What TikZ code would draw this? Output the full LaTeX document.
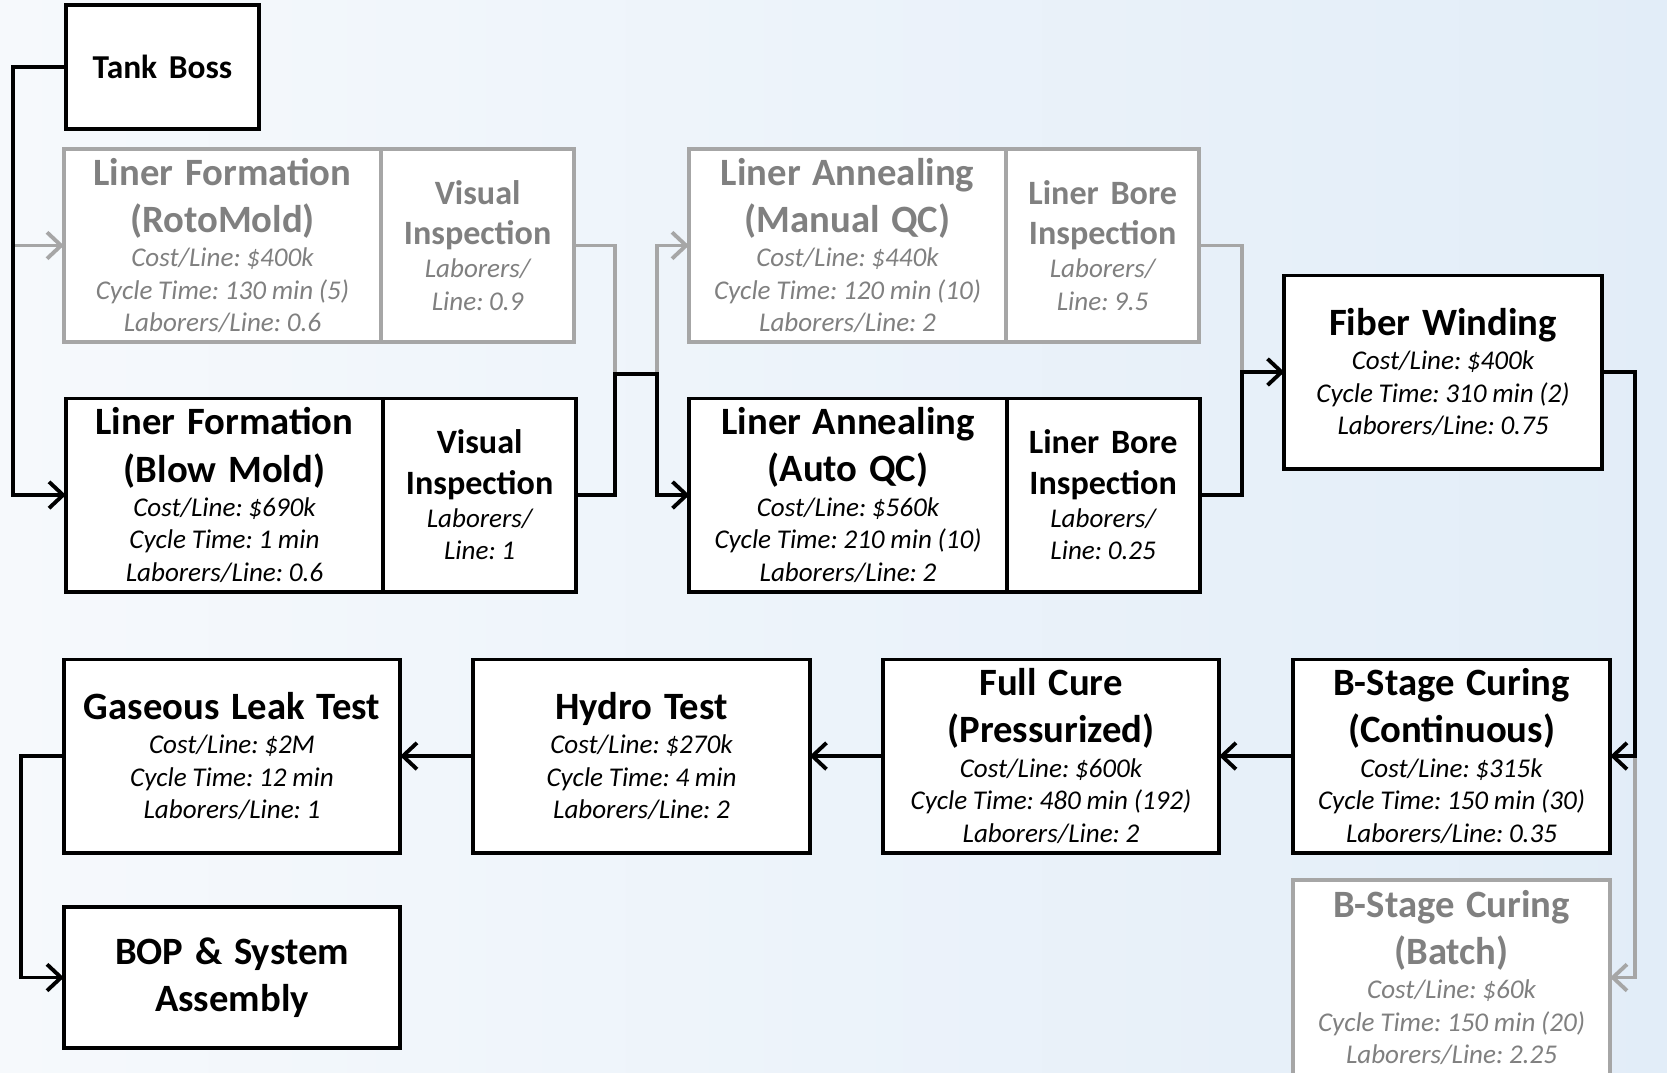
\documentclass[tikz,border=0pt]{standalone}
\usepackage{fontspec}
\setmainfont{Carlito}
\usetikzlibrary{arrows.meta}
\frenchspacing
\definecolor{offline}{HTML}{A6A6A6}
\definecolor{offtext}{HTML}{808080}
\definecolor{bgblue}{HTML}{E2EDF8}
\definecolor{bgedge}{HTML}{F6F9FC}
\newcommand{\stepname}[1]{{\fontsize{11}{13.4}\selectfont\bfseries #1\par}}
\newcommand{\stepdata}[1]{{\fontsize{7.7}{9.2}\selectfont\itshape\spaceskip=.21em\relax #1\par}}
\newcommand{\checkname}[1]{{\fontsize{9.7}{11.4}\selectfont\bfseries #1\par}}
\newcommand{\checkdata}[1]{{\fontsize{7.7}{9.2}\selectfont\itshape\spaceskip=.21em\relax #1\par}}
\begin{document}
\begin{tikzpicture}[x=0.01cm, y=-0.01cm, >={Straight Barb[length=4pt,width=7.5pt]},
	stepbox/.style={draw, line width=1.1pt, fill=white, inner sep=0pt, outer sep=0pt, align=center, minimum height=1.93cm},
	wide/.style={minimum width=3.36cm, text width=3.2cm},
	mid/.style={minimum width=3.17cm, text width=3.05cm},
	narrow/.style={minimum width=1.93cm, text width=1.85cm},
	flow/.style={line width=1.1pt},
	off/.style={draw=offline, text=offtext}]
			\clip (0,0) rectangle (1667,1072);
			\shade[left color=bgedge, middle color=white, right color=bgblue] (0,0) rectangle (1667,1072);
			\node[stepbox, minimum width=1.93cm, minimum height=1.24cm, text width=1.8cm] (tank) at (162.5,67) {\fontsize{9.5}{11}\selectfont\bfseries Tank Boss};
			\node[stepbox, mid, off] (roto) at (222.5,245.5) {\stepname{Liner Formation\\(RotoMold)}\vspace{0.6pt}\stepdata{Cost/Line: \$400k\\Cycle Time: 130 min (5)\\Laborers/Line: 0.6}};
			\node[stepbox, narrow, off, anchor=west] (rotocheck) at (roto.east) {\checkname{Visual\\Inspection}\vspace{0.3pt}\checkdata{Laborers/\\Line: 0.9}};
			\node[stepbox, mid] (blow) at (224.5,495) {\stepname{Liner Formation\\(Blow Mold)}\vspace{0.6pt}\stepdata{Cost/Line: \$690k\\Cycle Time: 1 min\\Laborers/Line: 0.6}};
			\node[stepbox, narrow, anchor=west] (blowcheck) at (blow.east) {\checkname{Visual\\Inspection}\vspace{0.3pt}\checkdata{Laborers/\\Line: 1}};
			\node[stepbox, mid, off] (manual) at (847.5,245.5) {\stepname{Liner Annealing\\(Manual QC)}\vspace{0.6pt}\stepdata{Cost/Line: \$440k\\Cycle Time: 120 min (10)\\Laborers/Line: 2}};
			\node[stepbox, narrow, off, anchor=west] (manualbore) at (manual.east) {\checkname{Liner Bore\\Inspection}\vspace{0.3pt}\checkdata{Laborers/\\Line: 9.5}};
			\node[stepbox, mid] (auto) at (848,495) {\stepname{Liner Annealing\\(Auto QC)}\vspace{0.6pt}\stepdata{Cost/Line: \$560k\\Cycle Time: 210 min (10)\\Laborers/Line: 2}};
			\node[stepbox, narrow, anchor=west] (autobore) at (auto.east) {\checkname{Liner Bore\\Inspection}\vspace{0.3pt}\checkdata{Laborers/\\Line: 0.25}};
			\node[stepbox, mid] (fiber) at (1443,372) {\stepname{Fiber Winding}\vspace{0.6pt}\stepdata{Cost/Line: \$400k\\Cycle Time: 310 min (2)\\Laborers/Line: 0.75}};
			\node[stepbox, mid] (bcont) at (1451.5,756) {\stepname{B-Stage Curing\\(Continuous)}\vspace{0.6pt}\stepdata{Cost/Line: \$315k\\Cycle Time: 150 min (30)\\Laborers/Line: 0.35}};
			\node[stepbox, mid, off, minimum height=1.95cm] (batch) at (1451.5,977.5) {\stepname{B-Stage Curing\\(Batch)}\vspace{0.6pt}\stepdata{Cost/Line: \$60k\\Cycle Time: 150 min (20)\\Laborers/Line: 2.25}};
			\node[stepbox, wide] (cure) at (1051,756) {\stepname{Full Cure\\(Pressurized)}\vspace{0.6pt}\stepdata{Cost/Line: \$600k\\Cycle Time: 480 min (192)\\Laborers/Line: 2}};
			\node[stepbox, wide] (hydro) at (641.5,756) {\stepname{Hydro Test}\vspace{0.6pt}\stepdata{Cost/Line: \$270k\\Cycle Time: 4 min\\Laborers/Line: 2}};
			\node[stepbox, wide] (leak) at (232,756) {\stepname{Gaseous Leak Test}\vspace{0.6pt}\stepdata{Cost/Line: \$2M\\Cycle Time: 12 min\\Laborers/Line: 1}};
			\node[stepbox, wide, minimum height=1.41cm] (bop) at (232,977.5) {\stepname{BOP \& System\\Assembly}};
			\coordinate (trunk) at (13,67);
			\coordinate (joinA) at (615,374);
			\coordinate (splitA) at (657,374);
			\coordinate (joinB) at (1242,372);
			\coordinate (bendC) at (1635,756);
			\draw[flow, off, ->] (trunk |- roto.west) -- (roto.west);
			\draw[flow, off] (rotocheck.east) -| (joinA);
			\draw[flow, off, ->] (splitA) |- (manual.west);
			\draw[flow, off] (manualbore.east) -| (joinB);
			\draw[flow, off, ->] (bendC) |- (batch.east);
			\draw[flow, ->] (tank.west) -- (trunk) |- (blow.west);
			\draw[flow, ->] (blowcheck.east) -| (joinA) -- (splitA) |- (auto.west);
			\draw[flow, ->] (autobore.east) -| (joinB) -- (fiber.west);
			\draw[flow, ->] (fiber.east) -| (bendC) -- (bcont.east);
			\draw[flow, ->] (bcont.west) -- (cure.east);
			\draw[flow, ->] (cure.west) -- (hydro.east);
			\draw[flow, ->] (hydro.west) -- (leak.east);
			\draw[flow, ->] (leak.west) -- ++(-43,0) |- (bop.west);
		\end{tikzpicture}
\end{document}
